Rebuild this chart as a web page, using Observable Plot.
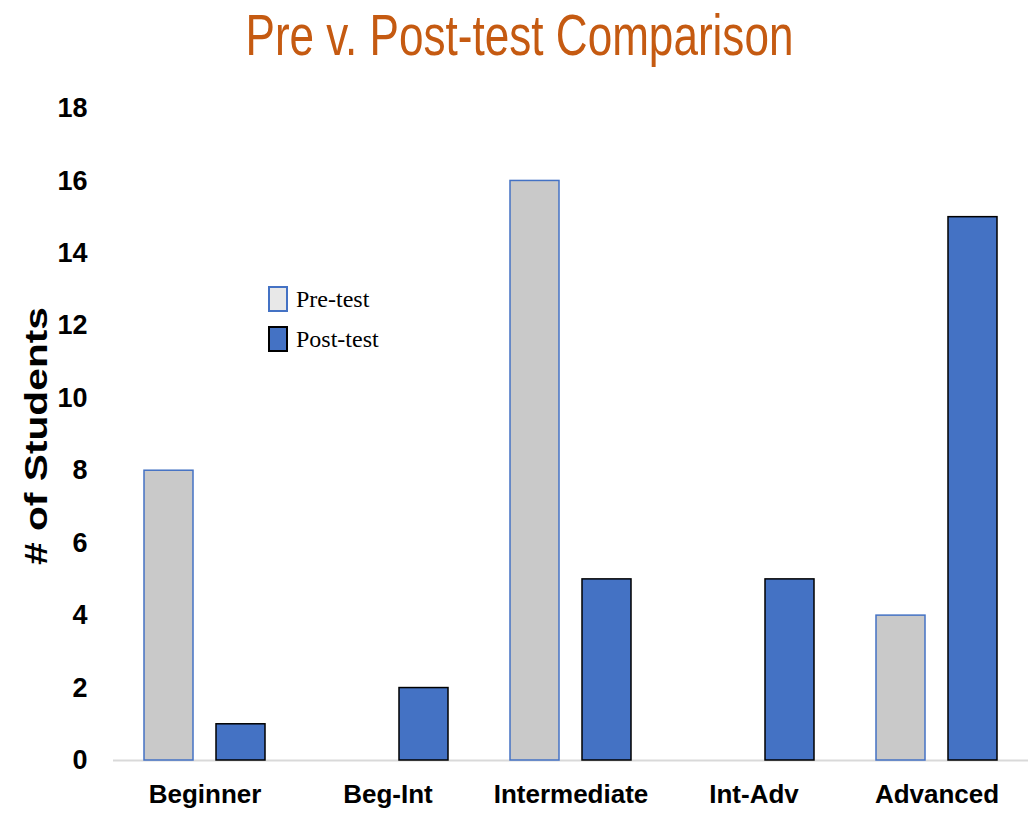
<!DOCTYPE html>
<html><head><meta charset="utf-8">
<script src="https://cdn.jsdelivr.net/npm/d3@7"></script>
<script src="https://cdn.jsdelivr.net/npm/@observablehq/plot@0.6"></script>
<style>
body{margin:0;background:#fff;font-family:"Liberation Sans",Arial,sans-serif;color:#000}
#wrap{position:relative;width:1029px;height:816px;overflow:hidden}
#title{height:70px;line-height:70px;text-align:center;color:#C55A11;font-size:58px;white-space:nowrap}
#title span{display:inline-block;transform:scaleX(0.76);transform-origin:center;position:relative;left:5px}
#legend{position:absolute;left:268px;top:279px;font-family:"Liberation Serif","Times New Roman",serif;font-size:24px}
.item{display:flex;align-items:center;height:40px}
.sw{width:20px;height:26px;margin-right:8px;box-sizing:border-box}
</style></head>
<body>
<div id="wrap">
  <div id="title"><span>Pre v. Post-test Comparison</span></div>
  <div id="chart"></div>
  <div id="legend"></div>
</div>
<script>
const levels = ["Beginner", "Beg-Int", "Intermediate", "Int-Adv", "Advanced"];
const tests = ["Pre-test", "Post-test"];
const preValues = [8, 0, 16, 0, 4];
const postValues = [1, 2, 5, 5, 15];
const yTicks = [0, 2, 4, 6, 8, 10, 12, 14, 16, 18];
const colors = {
  "Pre-test": {fill: "#C9C9C9", stroke: "#4472C4", swatch: "#E8E8E8"},
  "Post-test": {fill: "#4472C4", stroke: "#000000", swatch: "#4472C4"}
};

const rows = [];
levels.forEach((lv, i) => {
  rows.push({level: lv, test: "Pre-test", value: preValues[i]});
  rows.push({level: lv, test: "Post-test", value: postValues[i]});
});

const chart = Plot.plot({
  width: 1029,
  height: 746,
  marginLeft: 111,
  marginRight: 0,
  marginTop: 38,
  marginBottom: 56,
  style: {fontFamily: "'Liberation Sans', Arial, sans-serif", color: "#000", background: "#fff"},
  fx: {domain: levels, padding: 0, label: null},
  x: {domain: tests, paddingInner: 0.32, paddingOuter: 0.43, axis: null},
  y: {domain: [0, 18], label: "# of Students"},
  marks: [
    Plot.ruleY([0], {stroke: "#D9D9D9", strokeWidth: 2}),
    Plot.barY(rows.filter(d => d.test === "Pre-test" && d.value > 0), {
      fx: "level", x: "test", y: "value",
      fill: colors["Pre-test"].fill, stroke: colors["Pre-test"].stroke, strokeWidth: 1.5
    }),
    Plot.barY(rows.filter(d => d.test === "Post-test" && d.value > 0), {
      fx: "level", x: "test", y: "value",
      fill: colors["Post-test"].fill, stroke: colors["Post-test"].stroke, strokeWidth: 1.5
    }),
    Plot.axisY({
      ticks: yTicks, tickSize: 0, tickPadding: 26,
      fontSize: 27, fontWeight: "bold",
      label: null
    }),
    Plot.axisFx({
      anchor: "bottom", tickSize: 0, tickPadding: 24,
      fontSize: 26, fontWeight: "bold", label: null
    })
  ]
});
document.getElementById("chart").appendChild(chart);

// rotated y-axis label as real text
const svg = d3.select(chart);
const y = chart.scale("y");
svg.append("text")
  .attr("transform", `translate(47,${(y.apply(0) + y.apply(18)) / 2 + 2}) rotate(-90)`)
  .attr("text-anchor", "middle")
  .attr("font-size", 31)
  .attr("font-weight", "bold")
  .attr("font-family", "'Liberation Sans', Arial, sans-serif")
  .attr("textLength", 258)
  .attr("lengthAdjust", "spacingAndGlyphs")
  .attr("fill", "#000")
  .text("# of Students");

const legend = d3.select("#legend");
tests.forEach(t => {
  const it = legend.append("div").attr("class", "item");
  it.append("div").attr("class", "sw")
    .style("background", colors[t].swatch)
    .style("border", `2px solid ${colors[t].stroke}`);
  it.append("span").text(t);
});
</script>
</body></html>
